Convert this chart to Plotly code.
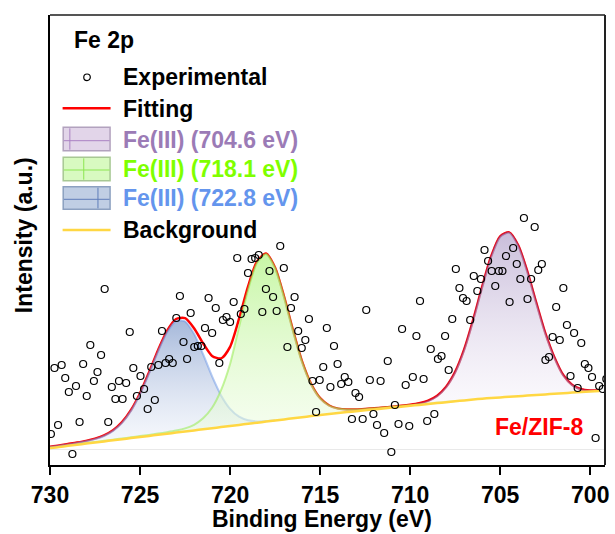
import numpy as np
import plotly.graph_objects as go

# ---------------- data ----------------
# Experimental points: binding energy grid start/step and intensities (a.u.)
EXP_E_START = 729.95
EXP_E_STEP = 0.199
exp_intensity = [15, 81, 24, 84, 71, 57, -5, 63, 27, 85,
                 53, 104, 68, 77, 94, 160, 27, 62, 50, 68,
                 50, 66, 117, 81, 53, 73, 60, 40, 82, 49,
                 84, 118, 86, 90, 86, 131, 153, 107, 90, 136,
                 102, 103, 103, 121, 151, 116, 141, 86, 129, 132,
                 127, 147, 191, 135, 140, 176, 190, 191, 194, 137,
                 160, 178, 152, 138, 203, 181, 102, 141, 152, 118,
                 101, 109, 130, 68, 37, 69, 82, 121, 62, 103,
                 85,
                 65, 72, 67, 30, 56, 52, 30, 139, 69, 35,
                 24, 68, 16, 88, -3, 44, 25, 120, 64, 23,
                 72, 113, 148, 70, 28, 100, 35, 90, 93, 113,
                 79, 130, 180, 161, 151, 148, 129, 173, 158, 170,
                 199, 188, 178, 163, 178, 178, 193, 147, 201, 185,
                 170, 231, 150, 170, 222, 179, 185, 89, 92, 112,
                 142, 109, 161, 124, 73, 116, 61, 106, 85, 81,
                 72, 11, 63, 60, 70]

# Curve grid: 730.0 eV down to 699.5 eV in 0.5 eV steps (62 points)
CURVE_E_START = 730.0
CURVE_E_STEP = 0.5
background = [1.0, 2.0, 3.2, 4.3, 5.4, 6.5, 7.6, 8.7, 9.8, 10.9,
              12.0, 13.1, 14.2, 15.3, 16.4, 17.5, 18.6, 19.7, 20.8, 21.9,
              23.0, 24.1, 25.2, 26.3, 27.4, 28.5, 29.6, 30.7, 31.8, 32.9,
              34.0, 35.0, 36.0, 36.9, 37.8, 38.7, 39.6, 40.5, 41.4, 42.3,
              43.2, 44.1, 45.0, 45.9, 46.8, 47.7, 48.6, 49.5, 50.3, 51.0,
              51.6, 52.2, 52.8, 53.4, 54.0, 54.6, 55.2, 55.8, 56.4, 57.0,
              57.5, 58.0]
peak_7228 = [1.05, 1.2, 1.4, 1.75, 2.3, 3.4, 5.4, 9.4, 16.3, 27.3,
             42.9, 62.5, 83.4, 101.4, 111.6, 110.2, 96.6, 75.1, 51.8, 31.7,
             17.2, 8.3, 3.5, 1.3, 0.5, 0.2, 0, 0, 0, 0,
             0, 0, 0, 0, 0, 0, 0, 0, 0, 0,
             0, 0, 0, 0, 0, 0, 0, 0, 0, 0,
             0, 0, 0, 0, 0, 0, 0, 0, 0, 0,
             0, 0]
peak_7181 = [0.3, 0.35, 0.4, 0.4, 0.45, 0.5, 0.55, 0.6, 0.7, 0.8,
             0.9, 1.0, 1.2, 1.5, 2.0, 3.1, 5.6, 11.0, 20.5, 37.0,
             62.0, 98.0, 134.0, 160.0, 167.5, 152.5, 122.5, 87.5, 55.5, 32.0,
             16.8, 8.5, 4.4, 2.6, 1.8, 1.4, 1.1, 1.0, 0.85, 0.75,
             0.65, 0.6, 0.55, 0.5, 0.45, 0.4, 0.4, 0.35, 0.3, 0.3,
             0.3, 0.25, 0.25, 0.2, 0.2, 0.2, 0.2, 0.15, 0.15, 0.15,
             0.1, 0.1]
peak_7046 = [0, 0, 0, 0, 0, 0, 0, 0, 0, 0,
             0, 0, 0, 0, 0, 0, 0, 0, 0, 0,
             0, 0, 0, 0, 0, 0, 0, 0, 0, 0,
             0, 0, 0, 0, 0, 0, 0, 0, 0, 0.1,
             0.4, 1.1, 2.9, 6.9, 15.0, 29.0, 50.6, 79.3, 111.7, 141.4,
             160.7, 164.2, 150.7, 124.3, 92.2, 61.4, 36.7, 18.0, 7.5, 2.6,
             0.9, 0.3]

x_ticks = [730, 725, 720, 715, 710, 705, 700]
legend_labels = ["Experimental", "Fitting", "Fe(III) (704.6 eV)",
                 "Fe(III) (718.1 eV)", "Fe(III) (722.8 eV)", "Background"]

# ---------------- derived arrays ----------------
E_exp = np.round(EXP_E_START - EXP_E_STEP * np.arange(len(exp_intensity)), 3)
E_fit = np.round(CURVE_E_START - CURVE_E_STEP * np.arange(len(background)), 2)
bg = np.array(background, dtype=float)
p1 = np.array(peak_7228, dtype=float)
p2 = np.array(peak_7181, dtype=float)
p3 = np.array(peak_7046, dtype=float)
fit = bg + p1 + p2 + p3

FONT = "Liberation Sans, Arial, Helvetica, sans-serif"
FS = 23
L, R, T, B = 50, 6, 15, 69
W, H = 615, 534
PW, PH = W - L - R, H - T - B


def px(x):
    return (x - L) / PW


def py(y):
    return (H - B - y) / PH


fig = go.Figure()

# fitting curve
fig.add_trace(go.Scatter(x=E_fit, y=fit, mode="lines",
                         line=dict(color="#ff0000", width=2.5, shape="spline", smoothing=0.7),
                         hoverinfo="skip"))

components = [
    (p1, [[0, "rgba(238,242,250,0.45)"], [1, "rgba(150,172,212,0.85)"]], "rgba(105,150,230,0.5)"),
    (p2, [[0, "rgba(238,252,228,0.45)"], [1, "rgba(190,245,150,0.85)"]], "rgba(150,235,80,0.55)"),
    (p3, [[0, "rgba(246,242,250,0.45)"], [1, "rgba(192,178,212,0.85)"]], "rgba(120,70,150,0.4)"),
]
for comp, cscale, lcol in components:
    idx = np.where(comp >= 0.45)[0]
    i0, i1 = max(idx[0] - 1, 0), min(idx[-1] + 2, len(comp))
    xs = E_fit[i0:i1]
    lower = bg[i0:i1]
    upper = bg[i0:i1] + comp[i0:i1]
    fig.add_trace(go.Scatter(x=xs, y=lower, mode="lines",
                             line=dict(width=0, shape="spline", smoothing=0.7),
                             hoverinfo="skip"))
    fig.add_trace(go.Scatter(x=xs, y=upper, mode="lines", fill="tonexty",
                             fillgradient=dict(type="vertical", colorscale=cscale,
                                               start=float(lower.min()), stop=float(upper.max())),
                             line=dict(color=lcol, width=2, shape="spline", smoothing=0.7),
                             hoverinfo="skip"))

# background
fig.add_trace(go.Scatter(x=E_fit, y=bg, mode="lines",
                         line=dict(color="#ffd743", width=2.5, shape="spline", smoothing=0.7),
                         hoverinfo="skip"))

# experimental points
fig.add_trace(go.Scatter(x=E_exp, y=exp_intensity, mode="markers",
                         marker=dict(symbol="circle-open", size=7, color="black",
                                     line=dict(width=1.2, color="black")),
                         hoverinfo="skip"))

fig.update_layout(width=W, height=H, margin=dict(l=L, r=R, t=T, b=B),
                  plot_bgcolor="white", paper_bgcolor="white", showlegend=False,
                  font=dict(family=FONT, size=FS, color="black"))
fig.update_xaxes(range=[730, 699.18], tickvals=x_ticks, ticktext=[str(v) for v in x_ticks],
                 ticks="outside", ticklen=8, tickwidth=2, tickcolor="black",
                 showline=True, linewidth=2, linecolor="black", mirror=False,
                 showgrid=False, zeroline=False,
                 tickfont=dict(family=FONT, size=FS, color="black", weight="bold"))
fig.update_yaxes(range=[-16, 434], showticklabels=False, ticks="", showgrid=False,
                 zeroline=True, zerolinecolor="#e9e9e9", zerolinewidth=1,
                 showline=True, linewidth=2, linecolor="black", mirror=False)

shapes = []
# top and right frame lines
shapes.append(dict(type="line", xref="paper", yref="paper", x0=0, x1=1, y0=1, y1=1,
                   line=dict(color="#555555", width=2)))
shapes.append(dict(type="line", xref="paper", yref="paper", x0=1, x1=1, y0=0, y1=1,
                   line=dict(color="#222222", width=2)))

# legend symbols
shapes.append(dict(type="circle", xref="paper", yref="paper",
                   x0=px(87.3 - 3.3), x1=px(87.3 + 3.3), y0=py(77.3 + 3.3), y1=py(77.3 - 3.3),
                   line=dict(color="black", width=1.2)))
shapes.append(dict(type="line", xref="paper", yref="paper", x0=px(62.7), x1=px(111),
                   y0=py(108.3), y1=py(108.3), line=dict(color="#ff0000", width=2.5)))
boxes = [
    (127.3, 150.7, "rgb(226,213,233)", "rgb(178,162,190)", "rgb(170,130,195)", 140.7, 70.0),
    (157.3, 180.7, "rgb(216,250,192)", "rgb(168,200,148)", "rgb(140,230,80)", 170.0, 84.0),
    (186.7, 209.3, "rgb(192,206,228)", "rgb(140,160,192)", "rgb(95,125,185)", 199.3, 98.3),
]
for y0, y1, fillc, linec, gridc, hy, vx in boxes:
    shapes.append(dict(type="rect", xref="paper", yref="paper", x0=px(63.3), x1=px(110.5),
                       y0=py(y1), y1=py(y0), fillcolor=fillc, line=dict(color=linec, width=1.5)))
    shapes.append(dict(type="line", xref="paper", yref="paper", x0=px(64), x1=px(110),
                       y0=py(hy), y1=py(hy), line=dict(color=gridc, width=1)))
    shapes.append(dict(type="line", xref="paper", yref="paper", x0=px(vx), x1=px(vx),
                       y0=py(y1 - 1), y1=py(y0 + 1), line=dict(color=gridc, width=1)))
shapes.append(dict(type="line", xref="paper", yref="paper", x0=px(62.7), x1=px(111),
                   y0=py(230), y1=py(230), line=dict(color="#ffd743", width=2.5)))
fig.update_layout(shapes=shapes)

annotations = []


def add_text(text, x, y, color="black", xanchor="left", angle=0):
    annotations.append(dict(text=text, xref="paper", yref="paper", x=px(x), y=py(y),
                            xanchor=xanchor, yanchor="middle", showarrow=False, textangle=angle,
                            font=dict(family=FONT, size=FS, color=color, weight="bold")))


add_text("Fe 2p", 72, 40.5)
legend_colors = ["black", "black", "#9b7bb6", "#7fff00", "#6495ed", "black"]
legend_y = [77.3, 108.8, 140.3, 169.0, 198.3, 230.3]
for lab, col, yy in zip(legend_labels, legend_colors, legend_y):
    add_text(lab, 122, yy, col)
add_text("Fe/ZIF-8", 543, 426.7, "#ff0000", "center")
add_text("Binding Energy (eV)", 324, 518.7, "black", "center")
add_text("Intensity (a.u.)", 24, 235, "black", "center", -90)
fig.update_layout(annotations=annotations)

fig.write_html("out.html")
